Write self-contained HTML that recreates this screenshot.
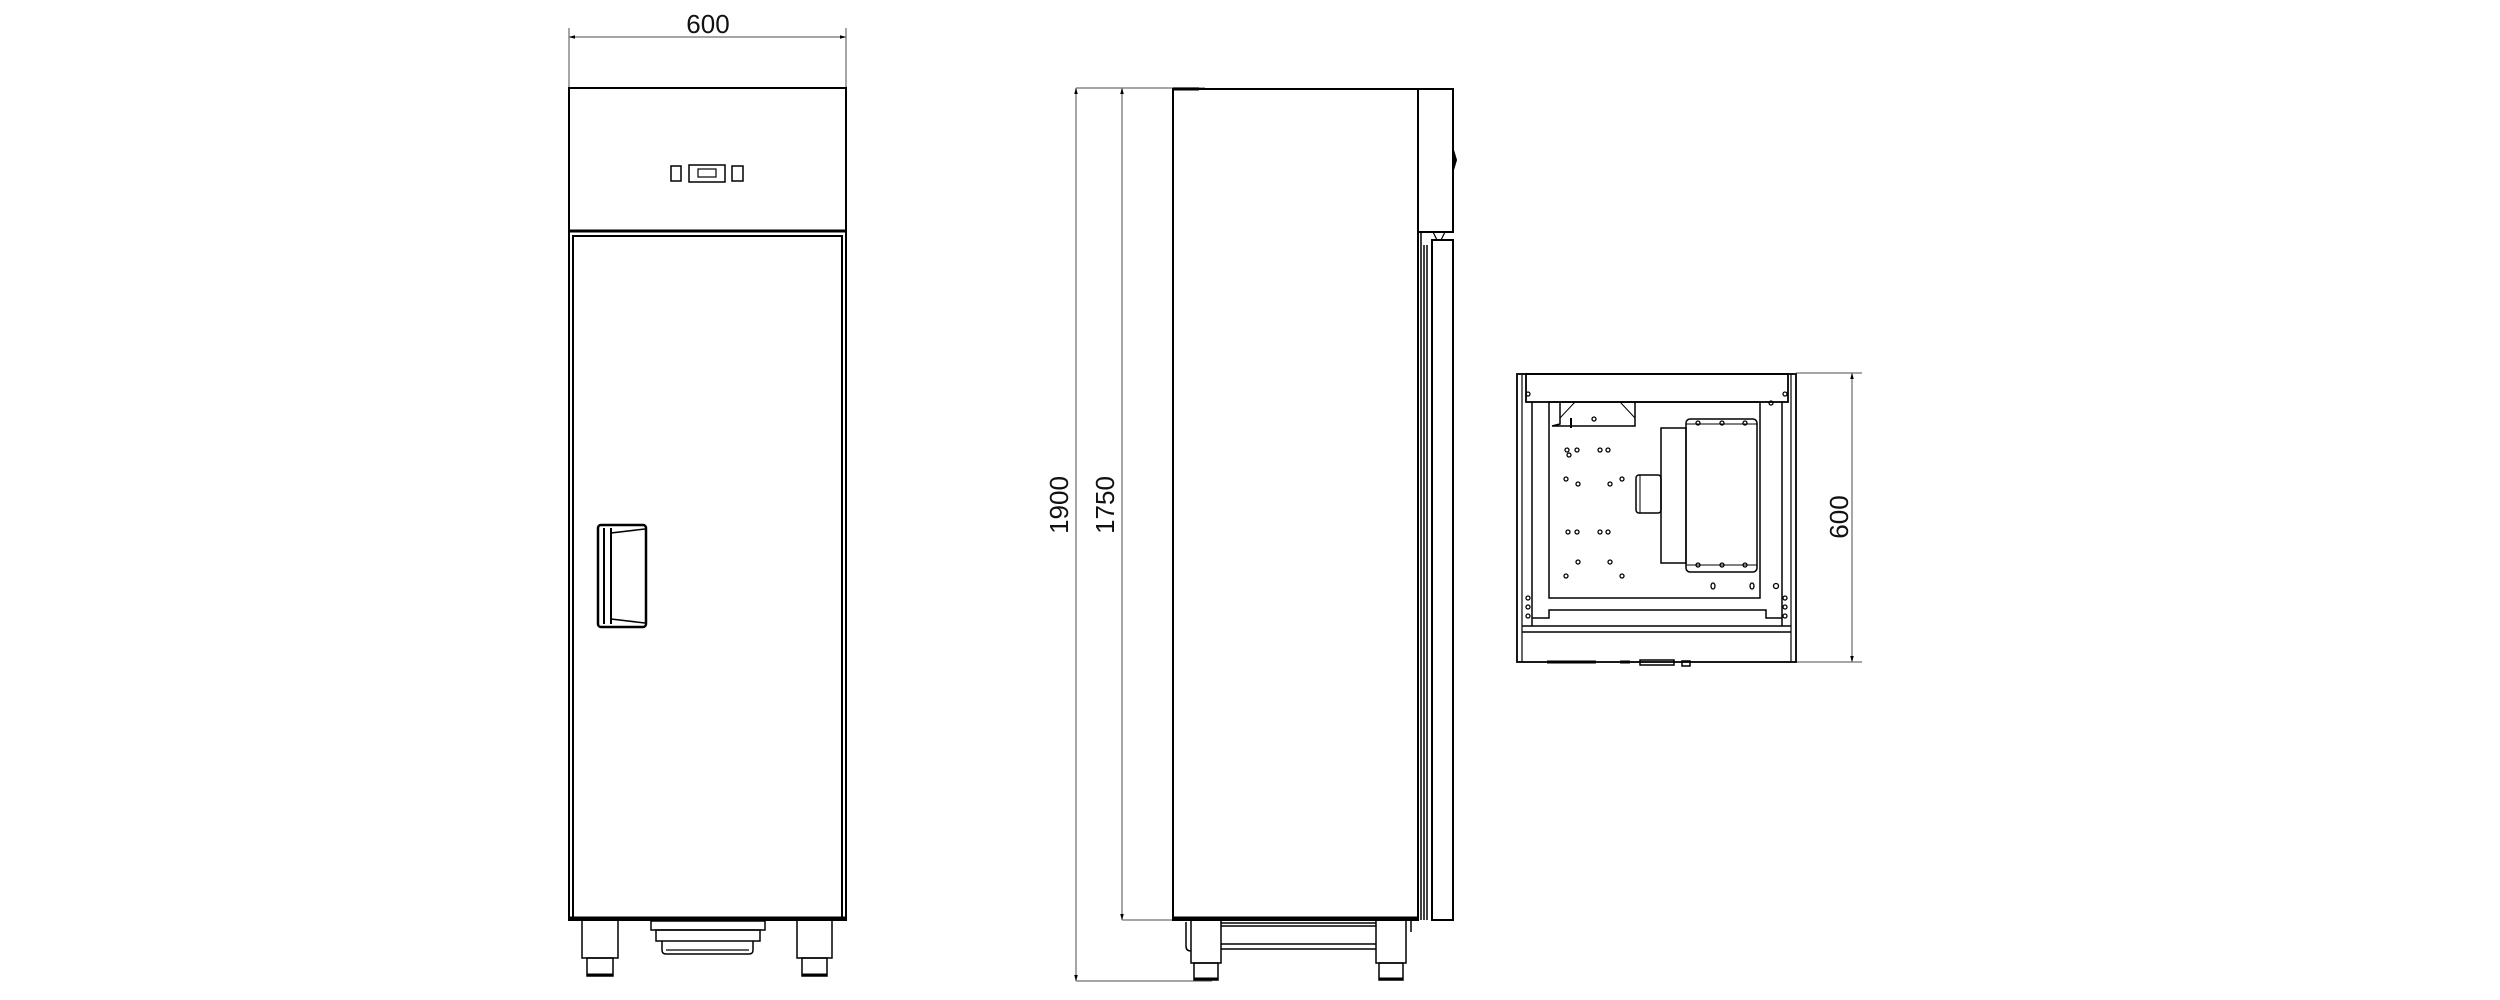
<!DOCTYPE html>
<html><head><meta charset="utf-8"><style>
html,body{margin:0;padding:0;background:#fff;}
svg{display:block;}
text{font-family:"Liberation Sans",sans-serif;font-size:26px;fill:#111;}
</style></head><body>
<svg width="2500" height="1000" viewBox="0 0 2500 1000" xmlns="http://www.w3.org/2000/svg">
<defs>
<marker id="ar" viewBox="0 0 10 10" refX="10" refY="5" markerWidth="18" markerHeight="6" orient="auto-start-reverse" markerUnits="userSpaceOnUse"><path d="M0,2 L10,5 L0,8 z" fill="#000"/></marker>
</defs>
<g fill="none" stroke="#000" stroke-width="2">
<!-- FRONT VIEW -->
<line x1="569" y1="28" x2="569" y2="88" stroke="#888" stroke-width="1.5"/>
<line x1="846" y1="28" x2="846" y2="88" stroke="#888" stroke-width="1.5"/>
<line x1="569" y1="37" x2="846" y2="37" stroke="#888" stroke-width="1.5" marker-start="url(#ar)" marker-end="url(#ar)"/>
<rect x="569" y="88" width="277" height="832"/>
<line x1="569" y1="231" x2="846" y2="231" stroke-width="3"/>
<line x1="572" y1="236" x2="843" y2="236"/>
<line x1="573" y1="236" x2="573" y2="918"/>
<line x1="842" y1="236" x2="842" y2="918"/>
<line x1="569" y1="918" x2="846" y2="918" stroke-width="3"/>
<!-- control panel -->
<rect x="671" y="166" width="10" height="15" stroke-width="1.5"/>
<rect x="689" y="165" width="36" height="17" stroke-width="1.5"/>
<rect x="698" y="169" width="18" height="8" stroke-width="1.2"/>
<rect x="732" y="166" width="11" height="15" stroke-width="1.5"/>
<!-- handle -->
<rect x="598" y="525" width="48" height="102" rx="3" stroke-width="2.5"/>
<line x1="604" y1="528" x2="604" y2="624" stroke-width="2"/>
<line x1="611" y1="528" x2="611" y2="624"/>
<line x1="611" y1="533" x2="645" y2="529" stroke-width="1.5"/>
<line x1="611" y1="619" x2="645" y2="623" stroke-width="1.5"/>
<!-- legs -->
<rect x="582" y="920" width="36" height="38" stroke-width="1.5"/>
<rect x="587" y="958" width="26" height="18" stroke-width="1.5"/>
<line x1="587" y1="975" x2="613" y2="975" stroke-width="3"/>
<rect x="797" y="920" width="35" height="38" stroke-width="1.5"/>
<rect x="802" y="958" width="25" height="18" stroke-width="1.5"/>
<line x1="802" y1="975" x2="827" y2="975" stroke-width="3"/>
<!-- drawer -->
<rect x="651" y="921" width="114" height="9" stroke-width="1.5"/>
<rect x="656" y="930" width="104" height="11" stroke-width="1.5"/>
<path d="M662,941 V950 Q662,954 666,954 H749 Q753,954 753,950 V941" stroke-width="1.5"/>
<line x1="666" y1="950" x2="749" y2="950" stroke-width="1.2"/>

<!-- SIDE VIEW dims -->
<line x1="1076" y1="88" x2="1205" y2="88" stroke="#888" stroke-width="1.5"/>
<line x1="1122" y1="920" x2="1176" y2="920" stroke="#888" stroke-width="1.5"/>
<line x1="1076" y1="981" x2="1212" y2="981" stroke="#888" stroke-width="1.5"/>
<line x1="1076" y1="88" x2="1076" y2="981" stroke="#888" stroke-width="1.5" marker-start="url(#ar)" marker-end="url(#ar)"/>
<line x1="1122" y1="88" x2="1122" y2="920" stroke="#888" stroke-width="1.5" marker-start="url(#ar)" marker-end="url(#ar)"/>
<!-- side body -->
<rect x="1173" y="89" width="245" height="831"/>
<line x1="1173" y1="89" x2="1199" y2="89" stroke-width="3"/>
<line x1="1173" y1="918" x2="1418" y2="918" stroke-width="3"/>
<rect x="1418" y="89" width="35" height="143"/>
<path d="M1453,150 L1456,160 L1453,170" fill="#000"/>
<rect x="1432" y="240" width="21" height="680"/>
<line x1="1421" y1="232" x2="1421" y2="920" stroke-width="1.5"/>
<line x1="1424" y1="245" x2="1424" y2="920" stroke-width="1.5"/>
<line x1="1427" y1="245" x2="1427" y2="920" stroke-width="1.5"/>
<path d="M1433,232 L1437,240 L1441,240 L1445,232" stroke-width="1.2"/>
<!-- side legs -->
<rect x="1191" y="920" width="30" height="43" stroke-width="1.5"/>
<rect x="1194" y="963" width="24" height="17" stroke-width="1.5"/>
<line x1="1194" y1="979" x2="1218" y2="979" stroke-width="3"/>
<rect x="1376" y="920" width="30" height="43" stroke-width="1.5"/>
<rect x="1379" y="963" width="24" height="17" stroke-width="1.5"/>
<line x1="1379" y1="979" x2="1403" y2="979" stroke-width="3"/>
<line x1="1221" y1="923" x2="1376" y2="923" stroke-width="1.5"/>
<line x1="1221" y1="926" x2="1376" y2="926" stroke-width="1.5"/>
<line x1="1221" y1="944" x2="1376" y2="944" stroke-width="1.5"/>
<line x1="1221" y1="949" x2="1376" y2="949" stroke-width="1.5"/>
<path d="M1186,922 V946 Q1186,951 1191,951" stroke-width="1.5"/>
<line x1="1411" y1="920" x2="1411" y2="932" stroke-width="1.5"/>

<!-- TOP VIEW -->
<line x1="1796" y1="373" x2="1862" y2="373" stroke="#888" stroke-width="1.5"/>
<line x1="1796" y1="662" x2="1862" y2="662" stroke="#888" stroke-width="1.5"/>
<line x1="1852" y1="373" x2="1852" y2="662" stroke="#888" stroke-width="1.5" marker-start="url(#ar)" marker-end="url(#ar)"/>
<rect x="1517" y="374" width="279" height="288" stroke-width="1.8"/>
<rect x="1526" y="374" width="262" height="28" stroke-width="1.8"/>
<line x1="1532" y1="402" x2="1532" y2="626" stroke-width="1.5"/>
<line x1="1522" y1="374" x2="1522" y2="662" stroke-width="1.2"/>
<line x1="1782" y1="402" x2="1782" y2="626" stroke-width="1.5"/>
<line x1="1791" y1="374" x2="1791" y2="662" stroke-width="1.2"/>
<rect x="1549" y="402" width="211" height="196" stroke-width="1.5"/>
<path d="M1532,618 H1549 V610 H1766 V618 H1782" stroke-width="1.5"/>
<line x1="1522" y1="626" x2="1791" y2="626" stroke-width="1.5"/>
<line x1="1522" y1="632" x2="1791" y2="632" stroke-width="1.5"/>
<path d="M1560,402 V424 L1552,426 L1614,426 H1635 V402" stroke-width="1.5"/>
<path d="M1560,418 L1575,402 M1635,418 L1620,402" stroke-width="1"/>
<line x1="1571" y1="418" x2="1571" y2="428" stroke-width="2"/>
<rect x="1686" y="419" width="71" height="153" rx="4" stroke-width="1.5"/>
<line x1="1686" y1="424" x2="1757" y2="424" stroke-width="1"/>
<line x1="1686" y1="565" x2="1757" y2="565" stroke-width="1"/>
<rect x="1661" y="428" width="25" height="135" stroke-width="1.5"/>
<rect x="1636" y="475" width="25" height="38" rx="3" stroke-width="1.5"/>
<line x1="1640" y1="475" x2="1640" y2="513" stroke-width="1"/>
<line x1="1547" y1="662" x2="1596" y2="662" stroke-width="3"/>
<line x1="1620" y1="662" x2="1630" y2="662" stroke-width="3"/>
<rect x="1640" y="660" width="34" height="5" stroke-width="1.5"/>
<rect x="1682" y="661" width="8" height="5" stroke-width="1.5"/>
</g>
<g fill="none" stroke="#000" stroke-width="1.3">
<circle cx="1567" cy="450" r="2"/><circle cx="1569" cy="455" r="2"/><circle cx="1577" cy="450" r="2"/><circle cx="1600" cy="450" r="2"/><circle cx="1608" cy="450" r="2"/>
<circle cx="1566" cy="479" r="2"/><circle cx="1578" cy="484" r="2"/><circle cx="1610" cy="484" r="2"/><circle cx="1622" cy="479" r="2"/>
<circle cx="1568" cy="532" r="2"/><circle cx="1577" cy="532" r="2"/><circle cx="1600" cy="532" r="2"/><circle cx="1608" cy="532" r="2"/>
<circle cx="1578" cy="562" r="2"/><circle cx="1610" cy="562" r="2"/><circle cx="1566" cy="576" r="2"/><circle cx="1622" cy="576" r="2"/>
<circle cx="1698" cy="423" r="2"/><circle cx="1722" cy="423" r="2"/><circle cx="1745" cy="423" r="2"/>
<circle cx="1698" cy="565" r="2"/><circle cx="1722" cy="565" r="2"/><circle cx="1745" cy="565" r="2"/>
<ellipse cx="1713" cy="586" rx="2" ry="3"/><ellipse cx="1752" cy="586" rx="2" ry="3"/><circle cx="1776" cy="586" r="2.5"/>
<circle cx="1528" cy="598" r="2"/><circle cx="1528" cy="607" r="2"/><circle cx="1528" cy="616" r="2"/>
<circle cx="1785" cy="598" r="2"/><circle cx="1785" cy="607" r="2"/><circle cx="1785" cy="616" r="2"/>
<circle cx="1528" cy="394" r="2"/><circle cx="1785" cy="394" r="2"/><circle cx="1594" cy="419" r="2"/><circle cx="1771" cy="403" r="2"/>
</g>
<text x="708" y="33" text-anchor="middle">600</text>
<text transform="translate(1068,505) rotate(-90)" text-anchor="middle">1900</text>
<text transform="translate(1114,505) rotate(-90)" text-anchor="middle">1750</text>
<text transform="translate(1848,517) rotate(-90)" text-anchor="middle">600</text>
</svg>
</body></html>
